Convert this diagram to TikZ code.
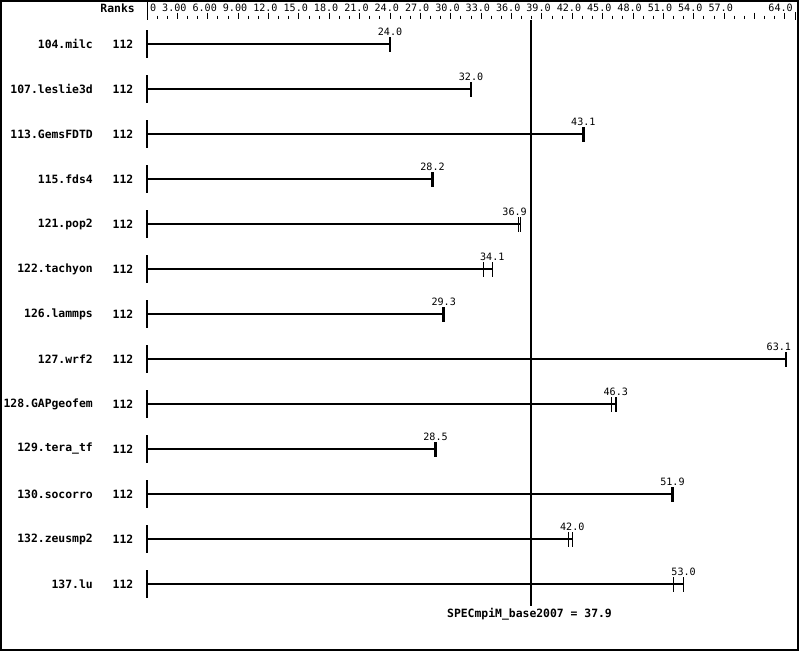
\documentclass[tikz,border=0pt]{standalone}
\usepackage{fontspec}
\usetikzlibrary{calc}
\newfontfamily\monofam{DejaVu Sans Mono}
\newcommand\mylblfont{\monofam\bfseries\fontsize{11.4}{12}\selectfont}
\newcommand\myvalfont{\monofam\fontsize{10.1}{11}\selectfont}
\begin{document}
\begin{tikzpicture}[x=1pt,y=-1pt,
  namelbl/.style={font=\mylblfont, anchor=east, inner sep=0pt},
  ranklbl/.style={font=\mylblfont, anchor=center, inner sep=0pt},
  vallbl/.style={font=\myvalfont, anchor=base, inner sep=0pt},
  axlbl/.style={font=\myvalfont, anchor=base west, inner sep=0pt},
  barline/.style={line width=2.6pt},
  endtick/.style={line width=2.4pt},
  thintick/.style={line width=1.1pt},
  starttick/.style={line width=1.2pt},
  meanline/.style={line width=2.6pt},
  axtick/.style={line width=1pt}]
\useasboundingbox (0,0) rectangle (799,651);
\draw[line width=1.5pt] (0.75,0.75) rectangle (797.75,649.75);
% header
\node[font=\mylblfont, anchor=east, inner sep=0pt] (ranks) at (135,8.5) {Ranks};
% axis
\draw[axtick] (147,2) -- (147,20);
\foreach \i in {1,...,63} {
  \pgfmathtruncatemacro\m{mod(\i,3)}
  \pgfmathsetmacro\xx{147+\i*10.125}
  \ifnum\m=0
    \draw[axtick] (\xx,12.5) -- (\xx,19);
  \else
    \draw[axtick] (\xx,15.5) -- (\xx,19);
  \fi
}
\draw[axtick] (795,12) -- (795,20);
\node[axlbl] (a0) at (150,11) {0};
\foreach \t [count=\k] in {3.00,6.00,9.00,12.0,15.0,18.0,21.0,24.0,27.0,30.0,33.0,36.0,39.0,42.0,45.0,48.0,51.0,54.0,57.0} {
  \pgfmathsetmacro\lx{162+(\k-1)*30.35}
  \node[axlbl] (a\k) at (\lx,11) {\t};
}
\node[font=\myvalfont, anchor=base east, inner sep=0pt] (a64) at (793,11) {64.0};
% rows
\foreach \nm/\v/\e/\w/\dx [count=\r] in {
  104.milc/24.0/0/2.4/0,
  107.leslie3d/32.0/0/2.4/0,
  113.GemsFDTD/43.1/0/2.4/0,
  115.fds4/28.2/0/2.4/0,
  121.pop2/36.9/36.7/1.3/-6,
  122.tachyon/34.1/33.2/1.1/0,
  126.lammps/29.3/0/2.4/0,
  127.wrf2/63.1/0/2.4/-7,
  128.GAPgeofem/46.3/45.9/2.4/0,
  129.tera\_tf/28.5/0/2.4/0,
  130.socorro/51.9/0/2.4/0,
  132.zeusmp2/42.0/41.6/1.1/0,
  137.lu/53.0/52.0/1.1/0} {
  \pgfmathsetmacro\yy{44+45*(\r-1)}
  \pgfmathsetmacro\xe{147+\v*10.125}
  \node[namelbl] (n\r) at (93,\yy) {\nm};
  \node[ranklbl] (k\r) at (123,\yy) {112};
  \coordinate (s\r) at (147,\yy);
  \coordinate (e\r) at (\xe,\yy);
  \draw[starttick] ($(s\r)+(0,-14)$) -- ($(s\r)+(0,14)$);
  \draw[barline] (s\r) -- (e\r);
  \draw[line width=\w pt] ($(e\r)+(0,-7)$) -- ($(e\r)+(0,8)$);
  \ifdim\e pt>0pt
    \pgfmathsetmacro\xf{147+\e*10.125}
    \coordinate (f\r) at (\xf,\yy);
    \draw[thintick] ($(f\r)+(0,-7)$) -- ($(f\r)+(0,8)$);
  \fi
  \node[vallbl] (v\r) at ($(e\r)+(\dx,-9)$) {\v};
}
% base metric line
\coordinate (mt) at (531,20);
\coordinate (mb) at (531,606);
\draw[meanline] (mt) -- (mb);
\node[font=\mylblfont, anchor=center, inner sep=0pt] (meanlbl) at (529.5,614) {SPECmpiM\_base2007 = 37.9};
\end{tikzpicture}
\end{document}
